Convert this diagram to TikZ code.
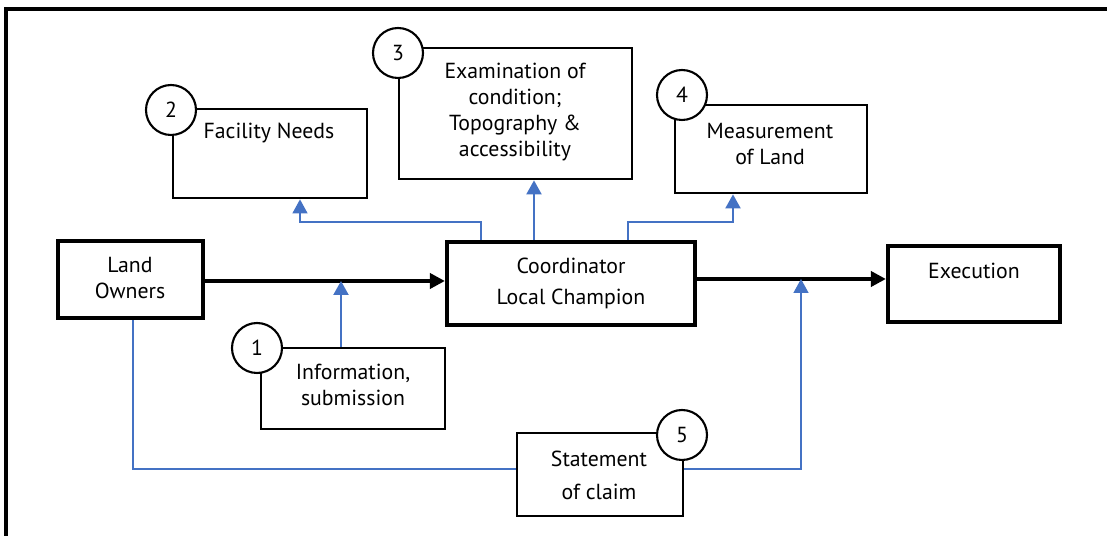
\documentclass[tikz,border=0pt]{standalone}
\usepackage{fontspec}
\setmainfont{PT Sans}
\usetikzlibrary{arrows.meta}
\definecolor{linkblue}{HTML}{4472C4}

\begin{document}
\begin{tikzpicture}[x=0.02cm,y=-0.02cm,
                      font=\fontsize{12.4}{14.8}\selectfont,
                      box/.style={draw,line width=1.6pt,inner sep=0pt},
                      mainbox/.style={draw,line width=2.4pt,inner sep=0pt},
                      num/.style={draw,circle,fill=white,line width=1.2pt,minimum size=1cm,inner sep=0pt},
                      txt/.style={align=center,inner sep=0pt},
                      flow/.style={line width=2.1pt,-{Triangle[length=0.3cm,width=0.3cm]}},
                      feed/.style={linkblue,line width=1.2pt,-{Triangle[length=0.28cm,width=0.3cm]}},
                      thinfeed/.style={linkblue,line width=0.8pt,-{Triangle[length=0.28cm,width=0.3cm]}},
                      tie/.style={linkblue,line width=0.8pt}]
                      \useasboundingbox (0,0) rectangle (1107,536);
                      \draw[line width=1.8pt] (6,536) -- (6,9) -- (1107,9);
                      % boxes
                      \node[mainbox,minimum width=2.9cm,minimum height=1.54cm] (Land) at (130.5,279.5) {};
                      \node[mainbox,minimum width=4.96cm,minimum height=1.66cm] (Coord) at (571,283.5) {};
                      \node[mainbox,minimum width=3.44cm,minimum height=1.52cm] (Exec) at (974,284) {};
                      \node[box,minimum width=3.88cm,minimum height=1.78cm] (Facility) at (270,153.5) {};
                      \node[box,minimum width=4.66cm,minimum height=2.62cm] (Exam) at (515.5,113.5) {};
                      \node[box,minimum width=3.84cm,minimum height=1.76cm] (Measure) at (771,149) {};
                      \node[box,minimum width=3.68cm,minimum height=1.62cm] (Info) at (353,388.5) {};
                      \node[box,minimum width=3.32cm,minimum height=1.66cm] (Claim) at (600,474.5) {};
                      % texts
                      \node[txt] (LandT) at (130,278) {Land\\Owners};
                      \node[txt] (CoordT) at (571,283.5) {Coordinator\\[3pt]Local Champion};
                      \node[txt] (ExecT) at (974,271) {Execution};
                      \node[txt] (FacilityT) at (269,133) {Facility Needs};
                      \node[txt] (ExamT) at (515,112) {Examination of\\condition;\\Topography \&\\accessibility};
                      \node[txt] (MeasureT) at (770,144.5) {Measurement\\of Land};
                      \node[txt] (InfoT) at (353,385) {Information,\\submission};
                      \node[txt] (ClaimT) at (599,475.5) {Statement\\[4pt]of claim};
                      % junctions
                      \coordinate (J1) at (341,281);
                      \coordinate (J2) at (801,279);
                      \coordinate (TapL) at (481,222);
                      \coordinate (TapR) at (628,222);
                      \coordinate (FacIn) at (300,222);
                      \coordinate (MeasIn) at (733,222);
                      \coordinate (ExamIn) at (534,200);
                      \coordinate (LandTap) at (133,469);
                      % connectors
                      \draw[flow] (Land.east |- J1) -- (Coord.west |- J1);
                      \draw[flow] (Coord.east |- J2) -- (Exec.west |- J2);
                      \draw[feed] (Info.north -| J1) -- (J1);
                      \draw[thinfeed] (Coord.north -| TapL) -- (TapL) -- (FacIn) -- (FacIn |- Facility.south);
                      \draw[feed] (Coord.north -| ExamIn) -- (Exam.south -| ExamIn);
                      \draw[feed] (Coord.north -| TapR) -- (TapR) -- (MeasIn) -- (MeasIn |- Measure.south);
                      \draw[tie] (Land.south -| LandTap) -- (LandTap) -- (LandTap -| Claim.west);
                      \draw[thinfeed] (Claim.east |- LandTap) -| (J2);
                      % numbers
                      \node[num] (C1) at (257,348) {1};
                      \node[num] (C2) at (171,110) {2};
                      \node[num] (C3) at (398,53) {3};
                      \node[num] (C4) at (682,95) {4};
                      \node[num] (C5) at (682,435) {5};
                    \end{tikzpicture}
\end{document}
